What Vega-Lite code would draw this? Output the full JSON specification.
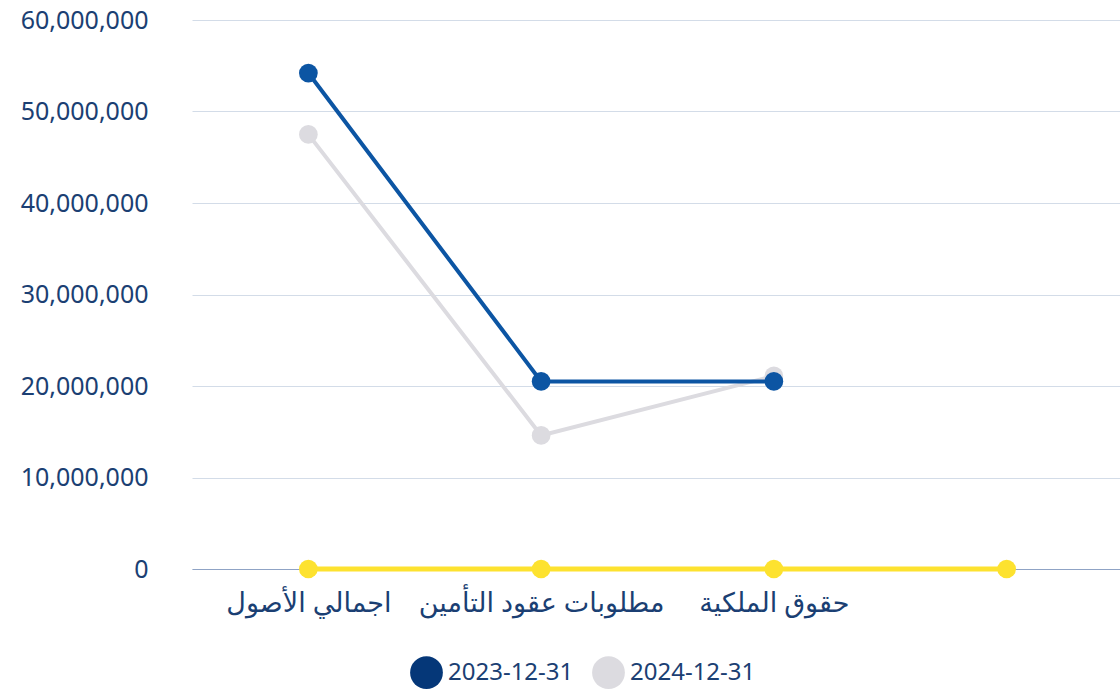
{
  "$schema": "https://vega.github.io/schema/vega-lite/v6.json",
  "width": 1120,
  "height": 694,
  "autosize": {"type": "fit", "contains": "padding"},
  "padding": {"top": 8, "left": 20, "right": -3, "bottom": 78},
  "background": "white",
  "data": {
    "values": [
      {"category": "اجمالي الأصول", "series": "2024-12-31", "value": 47500000},
      {"category": "مطلوبات عقود التأمين", "series": "2024-12-31", "value": 14600000},
      {"category": "حقوق الملكية", "series": "2024-12-31", "value": 21100000},
      {"category": "اجمالي الأصول", "series": "2023-12-31", "value": 54200000},
      {"category": "مطلوبات عقود التأمين", "series": "2023-12-31", "value": 20500000},
      {"category": "حقوق الملكية", "series": "2023-12-31", "value": 20500000},
      {"category": "اجمالي الأصول", "series": "other", "value": 0},
      {"category": "مطلوبات عقود التأمين", "series": "other", "value": 0},
      {"category": "حقوق الملكية", "series": "other", "value": 0},
      {"category": " ", "series": "other", "value": 0}
    ]
  },
  "encoding": {
    "x": {
      "field": "category",
      "type": "nominal",
      "sort": ["اجمالي الأصول", "مطلوبات عقود التأمين", "حقوق الملكية", " "],
      "scale": {"type": "point", "padding": 0.5},
      "axis": {
        "title": null,
        "labelAngle": 0,
        "ticks": false,
        "grid": false,
        "domain": true,
        "domainColor": "#8fa3c5",
        "domainWidth": 1,
        "labelPadding": 21,
        "labelFontSize": 27,
        "labelLimit": 0,
        "labelColor": "#1b3f73"
      }
    },
    "y": {
      "field": "value",
      "type": "quantitative",
      "scale": {"domain": [0, 60000000]},
      "axis": {
        "title": null,
        "values": [0, 10000000, 20000000, 30000000, 40000000, 50000000, 60000000],
        "format": ",.0f",
        "domain": false,
        "ticks": false,
        "grid": true,
        "gridColor": "#d3dce8",
        "gridWidth": 1,
        "labelPadding": 44,
        "labelFontSize": 25,
        "labelColor": "#1b3f73"
      }
    }
  },
  "layer": [
    {
      "transform": [{"filter": "datum.series === '2024-12-31'"}],
      "mark": {"type": "line", "color": "#dcdbe0", "strokeWidth": 4},
      "encoding": {}
    },
    {
      "transform": [{"filter": "datum.series === '2024-12-31'"}],
      "mark": {"type": "point", "filled": true, "color": "#dcdbe0", "opacity": 1, "size": 350, "shape": "circle"},
      "encoding": {}
    },
    {
      "transform": [{"filter": "datum.series === '2023-12-31'"}],
      "mark": {"type": "line", "color": "#0c55a3", "strokeWidth": 4},
      "encoding": {}
    },
    {
      "transform": [{"filter": "datum.series === '2023-12-31'"}],
      "mark": {"type": "point", "filled": true, "color": "#0c55a3", "opacity": 1, "size": 350, "shape": "circle"},
      "encoding": {}
    },
    {
      "transform": [{"filter": "datum.series === 'other'"}],
      "mark": {"type": "line", "color": "#fde22f", "strokeWidth": 5},
      "encoding": {}
    },
    {
      "transform": [{"filter": "datum.series === 'other'"}],
      "mark": {"type": "point", "filled": true, "color": "#fde22f", "opacity": 1, "size": 350, "shape": "circle"},
      "encoding": {}
    },
    {
      "transform": [{"filter": "datum.series !== 'other'"}],
      "mark": {"type": "point", "filled": true, "opacity": 0, "size": 10, "shape": "circle"},
      "encoding": {
        "fill": {
          "field": "series",
          "type": "nominal",
          "scale": {"domain": ["2023-12-31", "2024-12-31"], "range": ["#053778", "#dcdbe0"]},
          "legend": {
            "title": null,
            "orient": "none",
            "legendX": 218,
            "legendY": 636,
            "direction": "horizontal",
            "symbolType": "circle",
            "symbolSize": 1075,
            "symbolOpacity": 1,
            "symbolStrokeWidth": 0,
            "labelFontSize": 24,
            "labelColor": "#1b3f73",
            "labelOffset": 5,
            "columnPadding": 18
          }
        }
      }
    }
  ],
  "config": {
    "font": "Noto Sans, DejaVu Sans",
    "view": {"stroke": null}
  }
}
